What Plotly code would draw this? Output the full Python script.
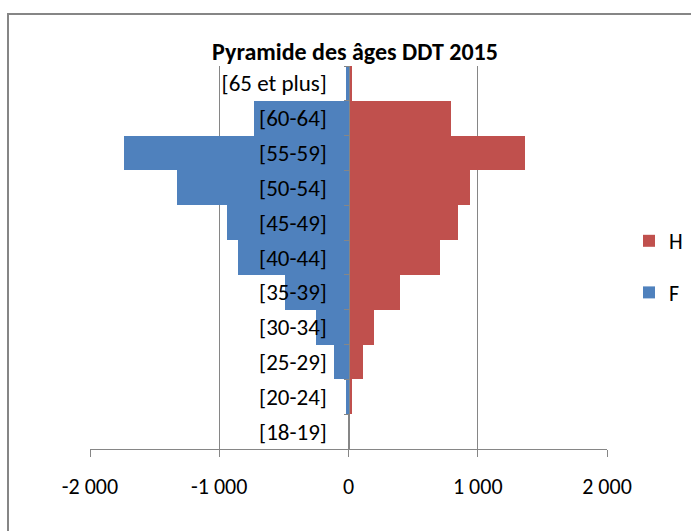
import plotly.graph_objects as go

categories = ["[18-19]", "[20-24]", "[25-29]", "[30-34]", "[35-39]", "[40-44]",
              "[45-49]", "[50-54]", "[55-59]", "[60-64]", "[65 et plus]"]
h_values = [0, 28, 115, 200, 400, 710, 845, 940, 1365, 795, 25]
f_values = [0, -20, -115, -255, -490, -855, -940, -1325, -1740, -730, -20]
x_tickvals = [-2000, -1000, 0, 1000, 2000]
x_ticktext = ["-2 000", "-1 000", "0", "1 000", "2 000"]
title_text = "Pyramide des âges DDT 2015"

FONT = "Carlito, 'Liberation Sans Narrow', Lato, sans-serif"
GRID = "#868686"
W, H = 691, 531
L, R, T, B = 90, 84, 66, 82
pw, ph = W - L - R, H - T - B

fig = go.Figure()
fig.add_trace(go.Bar(y=categories, x=h_values, orientation="h", name="H",
                     marker=dict(color="#C0504D", line=dict(width=0)),
                     legendgroup="h"))
fig.add_trace(go.Bar(y=categories, x=f_values, orientation="h", name="F",
                     marker=dict(color="#4F81BD", line=dict(width=0)),
                     legendgroup="f"))

def px_x(p):
    return (p - L) / pw

def px_y(p):
    return (H - B - p) / ph

fig.update_layout(
    width=W, height=H,
    margin=dict(l=L, r=R, t=T, b=B, autoexpand=False),
    paper_bgcolor="white", plot_bgcolor="white",
    barmode="relative", bargap=0,
    font=dict(family=FONT, size=22, color="black"),
    title=dict(text="<b>" + title_text + "</b>", xref="paper", x=px_x(355),
               xanchor="center", yref="container", y=1 - 52 / H,
               yanchor="middle", font=dict(family=FONT, size=24, color="black")),
    xaxis=dict(range=[-2000, 2000], tickvals=x_tickvals, ticktext=x_ticktext,
               showgrid=True, gridcolor=GRID, gridwidth=1, zeroline=False,
               showline=True, linecolor=GRID, linewidth=1,
               ticks="outside", ticklen=7, tickcolor=GRID,
               ticklabelstandoff=11,
               tickfont=dict(family=FONT, size=22, color="black"),
               fixedrange=True),
    yaxis=dict(type="category", categoryorder="array", categoryarray=categories,
               anchor="free", position=0.5, showline=True, linecolor=GRID,
               linewidth=1, ticks="outside", ticklen=5, tickcolor=GRID,
               tickson="boundaries", showgrid=False, zeroline=False,
               ticklabelstandoff=17,
               tickfont=dict(family=FONT, size=23, color="black"),
               fixedrange=True),
    legend=dict(x=px_x(629), xanchor="left", y=px_y(267), yanchor="middle",
                font=dict(family=FONT, size=22, color="black"),
                tracegroupgap=20, traceorder="grouped",
                bgcolor="rgba(0,0,0,0)"),
    shapes=[dict(type="rect", xref="paper", yref="paper",
                 x0=px_x(8), x1=px_x(720), y0=px_y(560), y1=px_y(14),
                 line=dict(color=GRID, width=2), fillcolor="rgba(0,0,0,0)",
                 layer="below")],
)

fig.write_html("out.html", config={"displayModeBar": False},
               post_script="document.body.style.margin='0';document.body.style.padding='0';")
